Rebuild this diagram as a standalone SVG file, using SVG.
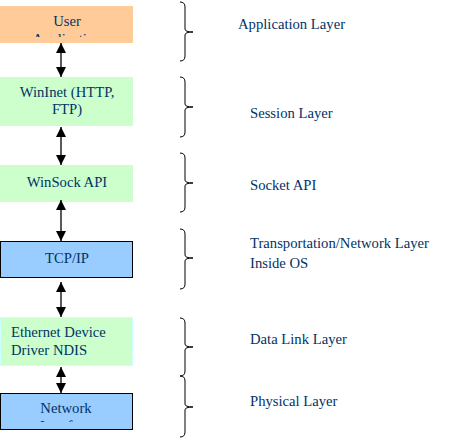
<svg xmlns="http://www.w3.org/2000/svg" width="470" height="440" viewBox="0 0 470 440">
<style>
text{font-family:"Liberation Serif","Times New Roman",serif;font-size:14.67px;fill:#003366}
.c{text-anchor:middle}
.br{fill:none;stroke:#000;stroke-width:1}
.ln{stroke:#000;stroke-width:1.3}
</style>
<defs>
<marker id="ah" viewBox="0 0 10 10" refX="10" refY="5" markerWidth="10" markerHeight="10" markerUnits="userSpaceOnUse" orient="auto-start-reverse"><path d="M0,0 L10,5 L0,10 Z" fill="#000"/></marker>
<clipPath id="cu"><rect x="0" y="6" width="133" height="31"/></clipPath>
<clipPath id="cn"><rect x="0" y="393" width="133" height="29"/></clipPath>
</defs>
<rect width="470" height="440" fill="#fff"/>
<g id="user">
<rect x="0" y="6" width="133" height="37" fill="#FFCC99"/>
<g clip-path="url(#cu)"><text class="c" x="67" y="26">User</text><text class="c" x="67" y="44">Application</text></g>
</g>
<g id="wininet">
<rect x="0" y="77" width="133" height="49" fill="#CCFFCC"/>
<text class="c" x="67" y="97">WinInet (HTTP,</text>
<text class="c" x="67" y="114">FTP)</text>
</g>
<g id="winsock">
<rect x="0" y="165" width="133" height="37" fill="#CCFFCC"/>
<text class="c" x="67" y="187">WinSock API</text>
</g>
<g id="tcpip">
<rect x="0.5" y="241.5" width="132" height="36" fill="#99CCFF" stroke="#000"/>
<text class="c" x="67" y="263">TCP/IP</text>
</g>
<g id="ethernet">
<rect x="0.5" y="317.5" width="132" height="48" fill="#CCFFCC" stroke="#CCFFFF"/>
<text x="11" y="337">Ethernet Device</text>
<text x="11" y="355">Driver NDIS</text>
</g>
<g id="network">
<rect x="0.5" y="393.5" width="132" height="36" fill="#99CCFF" stroke="#000"/>
<g clip-path="url(#cn)"><text class="c" x="66" y="413">Network</text><text class="c" x="66" y="431">Interface</text></g>
</g>
<g id="connectors">
<line class="ln" x1="61" y1="43" x2="61" y2="77" marker-start="url(#ah)" marker-end="url(#ah)"/>
<line class="ln" x1="61" y1="127" x2="61" y2="165" marker-start="url(#ah)" marker-end="url(#ah)"/>
<line class="ln" x1="61" y1="200" x2="61" y2="241" marker-start="url(#ah)" marker-end="url(#ah)"/>
<line class="ln" x1="61" y1="282" x2="61" y2="317" marker-start="url(#ah)" marker-end="url(#ah)"/>
<line class="ln" x1="61" y1="367" x2="61" y2="393" marker-start="url(#ah)" marker-end="url(#ah)"/>
</g>
<g id="braces">
<path class="br" d="M180,2 Q185,2 185,7 L185,29 Q185,32 193,32 Q185,32 185,35 L185,56 Q185,61 180,61"/>
<path class="br" d="M180,77 Q185,77 185,82 L185,104 Q185,107 193,107 Q185,107 185,110 L185,132 Q185,137 180,137"/>
<path class="br" d="M180,153 Q185,153 185,158 L185,180 Q185,183 193,183 Q185,183 185,186 L185,207 Q185,212 180,212"/>
<path class="br" d="M180,229 Q185,229 185,234 L185,255 Q185,258 193,258 Q185,258 185,261 L185,284 Q185,289 180,289"/>
<path class="br" d="M180,318 Q185,318 185,323 L185,344 Q185,347 193,347 Q185,347 185,350 L185,371 Q185,376 180,376"/>
<path class="br" d="M180,376 Q185,376 185,381 L185,404 Q185,407 193,407 Q185,407 185,410 L185,432 Q185,437 180,437"/>
</g>
<g id="labels">
<text x="238" y="29">Application Layer</text>
<text x="250" y="118">Session Layer</text>
<text x="250" y="190">Socket API</text>
<text x="250" y="248">Transportation/Network Layer</text>
<text x="250" y="268">Inside OS</text>
<text x="250" y="344">Data Link Layer</text>
<text x="250" y="406">Physical Layer</text>
</g>
</svg>
